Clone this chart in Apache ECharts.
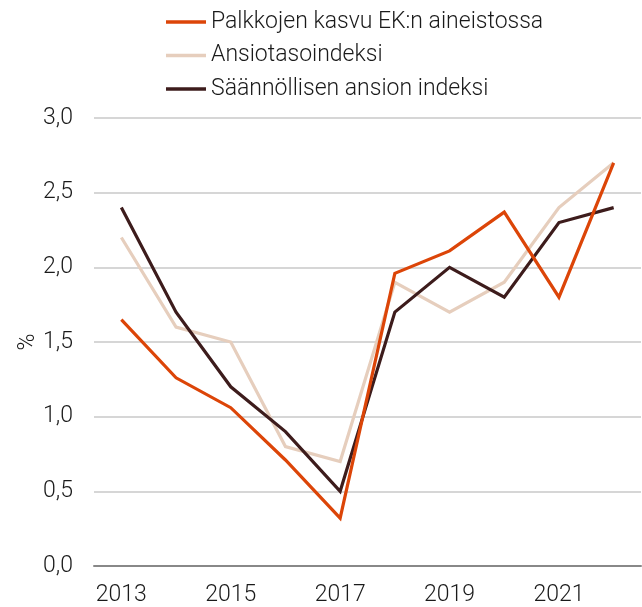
<!DOCTYPE html>
<html>
<head>
<meta charset="utf-8">
<script src="https://cdn.jsdelivr.net/npm/echarts@6/dist/echarts.min.js"></script>
<style>
  html, body { margin: 0; padding: 0; background: #fff; }
  #chart { width: 642px; height: 607px; }
</style>
</head>
<body>
<div id="chart"></div>
<script>
// Palkkojen kasvu, % (vuosimuutos)
const years = ["2013", "2014", "2015", "2016", "2017", "2018", "2019", "2020", "2021", "2022"];
const ekPalkat = [1.65, 1.26, 1.06, 0.71, 0.32, 1.96, 2.11, 2.37, 1.8, 2.7];
const ansiotaso = [2.2, 1.6, 1.5, 0.8, 0.7, 1.9, 1.7, 1.9, 2.4, 2.7];
const saannollinen = [2.4, 1.7, 1.2, 0.9, 0.5, 1.7, 2.0, 1.8, 2.3, 2.4];

const FONT = "Roboto";
const TEXT = "#1a1a1a";
const SIZE = 23;

const chart = echarts.init(document.getElementById("chart"));

const line = (name, data, color) => ({
  name,
  type: "line",
  data,
  symbol: "none",
  lineStyle: { color, width: 3.2, join: "miter" },
  itemStyle: { color },
});

chart.setOption({
  animation: false,
  textStyle: { fontFamily: FONT },
  legend: {
    orient: "vertical",
    left: 161,
    top: 4,
    itemWidth: 40,
    itemHeight: 3.5,
    itemGap: 7.5,
    icon: "rect",
    textStyle: { fontSize: SIZE, color: TEXT, fontWeight: 300, lineHeight: 26 },
    data: ["Palkkojen kasvu EK:n aineistossa", "Ansiotasoindeksi", "Säännöllisen ansion indeksi"],
  },
  grid: { left: 94, right: 1, top: 118, bottom: 41, containLabel: false },
  xAxis: {
    type: "category",
    data: years,
    boundaryGap: true,
    axisLine: { lineStyle: { color: "#888", width: 2 } },
    axisTick: { interval: 1, length: 6, lineStyle: { color: "#888", width: 2 } },
    axisLabel: { interval: 1, fontSize: SIZE, color: TEXT, margin: 18, fontWeight: 300 },
  },
  yAxis: {
    type: "value",
    min: 0,
    max: 3,
    interval: 0.5,
    name: "%",
    nameLocation: "middle",
    nameGap: 54,
    nameRotate: 90,
    nameMoveOverlap: false,
    nameTextStyle: { fontSize: SIZE, color: TEXT, fontWeight: 300 },
    axisLine: { show: false },
    axisTick: { show: false },
    axisLabel: {
      fontSize: SIZE,
      color: TEXT,
      margin: 21,
      fontWeight: 300,
      formatter: (v) => v.toFixed(1).replace(".", ","),
    },
    splitLine: { lineStyle: { color: "#c8c8c8", width: 1.5 } },
  },
  series: [
    line("Ansiotasoindeksi", ansiotaso, "#e6cebd"),
    line("Säännöllisen ansion indeksi", saannollinen, "#3d1c1c"),
    line("Palkkojen kasvu EK:n aineistossa", ekPalkat, "#dc4508"),
  ],
});
</script>
</body>
</html>
